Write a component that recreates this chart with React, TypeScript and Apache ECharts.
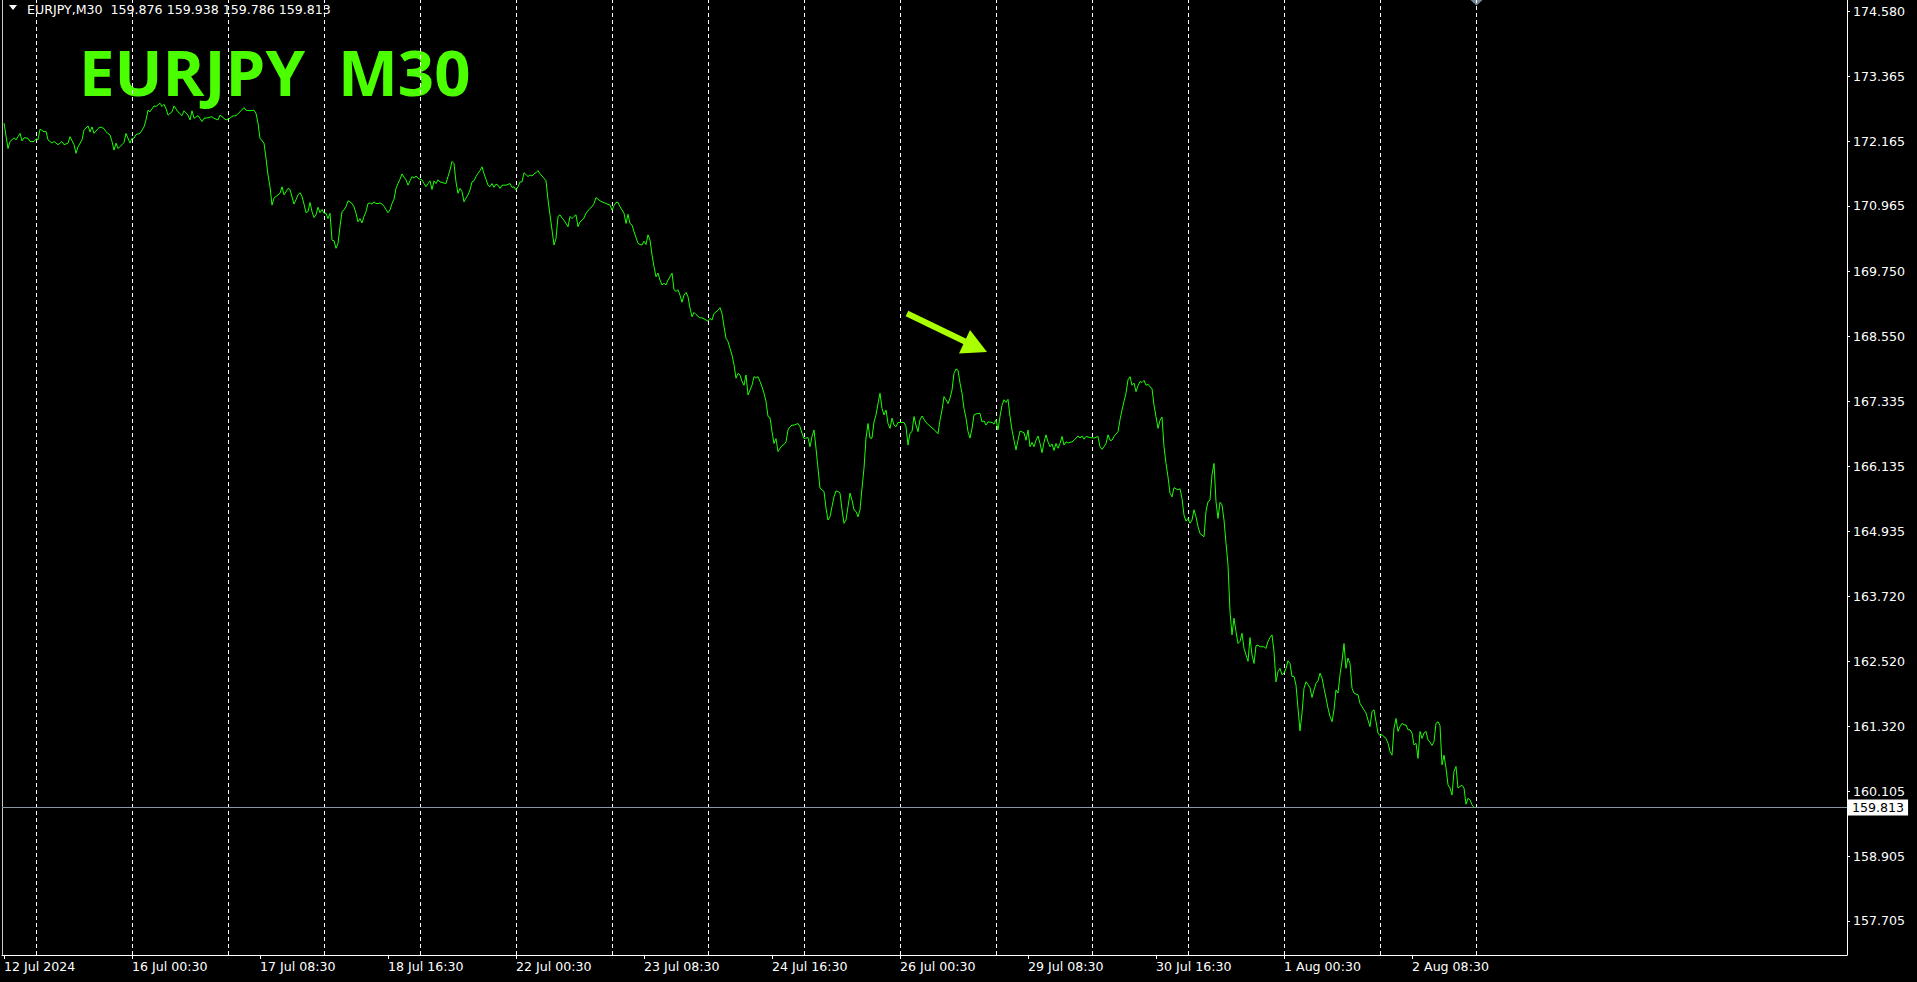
import React, { useEffect, useRef } from "react";
import * as echarts from "echarts";

const symbolName = "EURJPY";
const timeframe = "M30";
const lastBarOHLC = ["159.876", "159.938", "159.786", "159.813"];
const bidPrice = 159.813;

const timeLabels = [
  "12 Jul 2024", "16 Jul 00:30", "17 Jul 08:30", "18 Jul 16:30", "22 Jul 00:30", "23 Jul 08:30",
  "24 Jul 16:30", "26 Jul 00:30", "29 Jul 08:30", "30 Jul 16:30", "1 Aug 00:30", "2 Aug 08:30",
];
const timeLabelBars = [0, 64, 128, 192, 256, 320, 384, 448, 512, 576, 640, 704];
const gridLineBars = [16, 64, 112, 160, 208, 256, 304, 352, 400, 448, 496, 544, 592, 640, 688, 736];
const priceTicks = [
  174.58, 173.365, 172.165, 170.965, 169.75, 168.55, 167.335, 166.135,
  164.935, 163.72, 162.52, 161.32, 160.105, 158.905, 157.705,
];
const priceMin = 157.074;
const priceMax = 174.784;
const barMin = -1;
const barMax = 921.5;

// M30 bar index (from 12 Jul 2024 16:30) and close price
const sampleBars = [
  0, 2, 3, 4, 5, 6, 7, 8, 9, 10, 12, 13, 15, 16, 17, 18, 20, 21, 22, 24, 25, 27, 29, 30, 32, 33, 35, 36, 37, 39,
  40, 42, 43, 44, 45, 47, 48, 50, 51, 53, 54, 55, 56, 57, 59, 60, 61, 63, 64, 65, 66, 68, 70, 71, 72, 73, 75, 76, 78, 79,
  80, 81, 82, 84, 85, 87, 89, 90, 92, 93, 94, 95, 97, 99, 100, 102, 104, 105, 107, 108, 110, 111, 113, 114, 116, 118, 120, 121, 123, 125,
  126, 127, 128, 130, 131, 132, 133, 134, 135, 137, 138, 139, 140, 142,
  143, 145, 146, 147, 148, 149, 150, 151, 152, 153, 154, 155, 156, 157, 158, 159, 160, 161, 162, 163, 164, 165, 166, 167, 168, 169,
  170, 171, 172, 173, 174, 175, 176, 177, 178, 179, 180, 181, 182, 183, 184, 185, 186, 187, 188, 189, 190, 192, 193, 194, 195, 196,
  197, 198, 199, 200, 201, 202, 203, 204, 205, 206, 207, 208, 209, 210, 211, 212, 213, 214, 215, 216, 217, 218, 219, 221, 222, 223,
  224, 225, 226, 227, 228, 229, 230, 231, 232, 233, 234, 235, 236, 237, 238, 239, 240, 241, 242, 243, 244, 245, 246, 247, 248, 249,
  250, 251, 253, 254, 255, 256, 257, 258, 259, 260, 262, 263, 264, 265, 266, 267, 268, 270, 271, 272, 273, 274, 275, 276, 277, 278,
  279, 280, 282, 283,
  284, 285, 286, 287, 288, 289, 290, 291, 293, 294, 295, 296, 298, 299, 301, 303, 304, 305, 306, 307, 308, 310, 311, 312, 313, 314,
  315, 317, 318, 319, 320, 321, 322, 323, 324, 325, 326, 327, 328, 329, 330, 331, 332, 333, 334, 335, 336, 337, 338, 339, 340, 341,
  342, 343, 344, 345, 346, 348, 349, 351, 352, 353, 354, 355, 357, 358, 359, 360, 361, 362, 363, 364, 365, 366, 367, 368, 369, 370,
  371, 372, 373, 374, 375, 376, 377, 378, 379, 380, 381, 382, 383, 384, 385, 386, 387, 388, 389, 390, 391, 392, 393, 394, 395, 397,
  398, 399, 400, 402, 403, 404, 405, 406, 407, 408, 409, 410, 411, 412, 413, 414, 415, 416, 417, 418, 419, 420, 421, 422, 423, 424,
  425, 426, 427, 428, 429, 430, 431, 432, 433, 434, 435, 436, 437, 438,
  439, 440, 441, 442, 443, 444, 445, 446, 447, 448, 449, 450, 451, 452, 453, 454, 455, 456, 457, 458, 459, 460, 461, 463, 465, 467,
  468, 469, 470, 471, 472, 473, 474, 475, 476, 477, 478, 479, 480, 481, 482, 483, 484, 485, 486, 488, 489, 490, 491, 492, 494, 495,
  496, 497, 498, 499, 500, 501, 502, 503, 504, 505, 506, 507, 508, 510, 511, 512, 513, 514, 515, 516, 517, 518, 519, 520, 521, 522,
  523, 524, 525, 526, 527, 528, 529, 530, 531, 532, 534, 535, 537, 538, 539, 540, 541, 543, 545, 547, 548, 549, 550, 551, 552, 553,
  554, 555, 557, 558, 559, 560, 561, 562, 563, 564, 565, 566, 567, 568, 569, 570, 571, 572, 573, 574, 575, 576, 577, 578, 579, 580,
  581, 582, 583,
  584, 585, 587, 588, 589, 590, 591, 592, 593, 594, 595, 596, 597, 598, 599, 600, 601, 602, 603, 604, 605, 606, 607, 608, 609, 610,
  611, 612, 613, 614, 615, 616, 617, 618, 619, 620, 621, 622, 623, 624, 625, 626, 627, 628, 630, 631, 632, 633, 634, 635, 636, 637,
  638, 639, 640, 641, 642, 643, 644, 645, 646, 647, 648, 649, 650, 651, 652, 653, 654, 655, 656, 657, 658, 659, 660, 661, 662, 663,
  664, 665, 666, 667, 668, 669, 670, 671, 672, 673, 674, 675, 676, 677, 678, 679, 680, 681, 682, 683, 684, 685, 686, 687, 688, 689,
  690, 691, 692, 693, 694, 695, 696, 697, 698, 699, 700, 701, 702, 703, 704, 705, 706, 707, 708, 709, 710, 711, 712, 713, 714, 715,
  716, 717, 718, 719, 720, 721, 722, 723, 724, 725, 726, 727, 728, 729, 730, 731, 732, 733, 734, 735,
];
const samplePrices = [
  172.50, 172.03, 172.16, 172.19, 172.23, 172.19, 172.25, 172.31, 172.17, 172.23, 172.22, 172.16, 172.16, 172.21, 172.19, 172.39, 172.34, 172.35, 172.19, 172.13, 172.16, 172.10, 172.16, 172.10, 172.13, 172.25, 172.10, 171.94, 172.06, 172.19,
  172.37, 172.45, 172.34, 172.43, 172.31, 172.40, 172.43, 172.40, 172.34, 172.28, 172.16, 172.00, 172.13, 172.03, 172.10, 172.14, 172.31, 172.13, 172.22, 172.22, 172.29, 172.31, 172.43, 172.56, 172.74, 172.71, 172.82, 172.81, 172.87, 172.81,
  172.85, 172.77, 172.65, 172.71, 172.82, 172.71, 172.64, 172.73, 172.65, 172.56, 172.73, 172.59, 172.64, 172.53, 172.59, 172.60, 172.62, 172.59, 172.56, 172.65, 172.59, 172.56, 172.59, 172.63, 172.64, 172.71, 172.79, 172.74, 172.73, 172.74,
  172.68, 172.50, 172.22, 172.13, 171.85, 171.54, 171.32, 170.98, 171.11, 171.17, 171.20, 171.32, 171.17, 171.29,
  171.27, 171.00, 171.08, 171.17, 171.21, 171.14, 171.00, 170.84, 170.86, 171.03, 170.86, 170.75, 170.80, 170.94, 170.84, 170.90, 170.83, 170.83, 170.73, 170.83, 170.33, 170.32, 170.18, 170.27, 170.58, 170.86,
  170.89, 170.95, 171.06, 171.04, 171.01, 170.95, 170.83, 170.67, 170.73, 170.65, 170.77, 170.86, 171.01, 171.02, 171.00, 171.04, 171.01, 171.01, 171.02, 171.00, 170.96, 170.84, 170.89, 171.01, 171.09, 171.29,
  171.38, 171.46, 171.56, 171.50, 171.45, 171.35, 171.43, 171.51, 171.48, 171.52, 171.48, 171.46, 171.45, 171.38, 171.32, 171.38, 171.43, 171.27, 171.43, 171.38, 171.45, 171.41, 171.40, 171.38, 171.51, 171.63,
  171.79, 171.75, 171.41, 171.20, 171.29, 171.23, 171.04, 171.11, 171.17, 171.26, 171.41, 171.43, 171.51, 171.57, 171.62, 171.69, 171.56, 171.46, 171.35, 171.32, 171.38, 171.31, 171.37, 171.35, 171.29, 171.35,
  171.35, 171.35, 171.38, 171.31, 171.32, 171.26, 171.32, 171.41, 171.41, 171.58, 171.51, 171.54, 171.52, 171.56, 171.58, 171.62, 171.56, 171.48, 171.43, 171.08, 170.80, 170.52, 170.24, 170.36, 170.77, 170.80,
  170.74, 170.70, 170.58, 170.77,
  170.73, 170.77, 170.80, 170.58, 170.67, 170.70, 170.74, 170.83, 170.92, 170.95, 171.01, 171.12, 171.06, 171.04, 171.01, 170.98, 170.89, 170.97, 171.03, 171.03, 170.95, 170.83, 170.64, 170.81, 170.64, 170.61,
  170.49, 170.27, 170.25, 170.24, 170.31, 170.25, 170.43, 170.33, 170.06, 169.84, 169.65, 169.72, 169.59, 169.50, 169.53, 169.50, 169.59, 169.65, 169.72, 169.41, 169.38, 169.41, 169.31, 169.18, 169.31, 169.36,
  169.28, 169.07, 168.91, 168.99, 168.95, 168.89, 168.89, 168.85, 168.83, 168.88, 168.85, 168.97, 169.03, 169.08, 168.97, 168.73, 168.51, 168.45, 168.32, 168.20, 168.02, 167.77, 167.86, 167.83, 167.71, 167.64,
  167.83, 167.46, 167.55, 167.64, 167.80, 167.77, 167.80, 167.71, 167.61, 167.49, 167.34, 167.06, 167.04, 166.78, 166.56, 166.65, 166.41, 166.47, 166.52, 166.54, 166.59, 166.81, 166.87, 166.90, 166.90, 166.93,
  166.87, 166.75, 166.65, 166.67, 166.50, 166.69, 166.81, 166.47, 166.10, 165.73, 165.70, 165.67, 165.36, 165.14, 165.20, 165.39, 165.57, 165.68, 165.67, 165.64, 165.33, 165.08, 165.14, 165.39, 165.64, 165.51,
  165.33, 165.30, 165.20, 165.33, 165.73, 166.10, 166.66, 166.93, 166.66, 166.66, 166.96, 167.09, 167.30, 167.49,
  167.21, 167.09, 167.18, 166.93, 166.84, 167.03, 166.90, 166.87, 166.95, 166.95, 166.95, 166.95, 166.87, 166.53, 166.75, 166.78, 167.06, 166.90, 166.78, 167.00, 167.07, 167.01, 166.95, 166.88, 166.82, 166.74,
  166.99, 167.18, 167.43, 167.37, 167.30, 167.40, 167.55, 167.86, 167.94, 167.92, 167.68, 167.49, 167.21, 167.03, 166.78, 166.66, 166.84, 167.09, 167.11, 167.12, 166.96, 166.98, 166.90, 166.96, 166.95, 166.92,
  167.00, 166.81, 167.06, 167.27, 167.37, 167.32, 167.38, 167.06, 166.81, 166.62, 166.44, 166.62, 166.79, 166.76, 166.62, 166.81, 166.50, 166.58, 166.50, 166.62, 166.70, 166.56, 166.39, 166.58, 166.72, 166.59,
  166.50, 166.55, 166.43, 166.56, 166.47, 166.56, 166.69, 166.53, 166.59, 166.57, 166.59, 166.62, 166.70, 166.66, 166.70, 166.64, 166.69, 166.67, 166.66, 166.69, 166.50, 166.45, 166.50, 166.56, 166.72, 166.62,
  166.62, 166.69, 166.78, 167.00, 167.18, 167.34, 167.49, 167.74, 167.80, 167.64, 167.68, 167.52, 167.63, 167.71, 167.69, 167.73, 167.64, 167.66, 167.61, 167.58, 167.27, 167.06, 166.84, 166.99, 167.05, 166.50,
  166.19, 165.94, 165.64,
  165.57, 165.74, 165.70, 165.72, 165.54, 165.23, 165.12, 165.17, 165.08, 165.14, 165.33, 165.20, 165.02, 164.89, 164.86, 164.83, 165.30, 165.48, 165.51, 165.98, 166.19, 165.48, 165.17, 165.47, 165.42, 165.14,
  164.71, 164.31, 163.44, 163.01, 163.32, 163.07, 162.85, 162.89, 163.04, 162.76, 162.64, 162.52, 162.96, 162.64, 162.48, 162.81, 162.82, 162.79, 162.79, 162.76, 162.89, 162.96, 163.01, 162.70, 162.14, 162.33,
  162.39, 162.27, 162.30, 162.39, 162.53, 162.48, 162.24, 162.24, 162.08, 161.65, 161.23, 161.56, 162.02, 162.14, 162.09, 162.03, 161.85, 161.99, 162.11, 162.16, 162.30, 162.21, 162.02, 161.84, 161.65, 161.50,
  161.40, 161.62, 161.99, 161.93, 162.27, 162.52, 162.85, 162.39, 162.58, 162.48, 162.02, 161.93, 161.91, 161.90, 161.74, 161.68, 161.62, 161.56, 161.43, 161.31, 161.59, 161.62, 161.40, 161.19, 161.14, 161.16,
  161.12, 161.09, 161.00, 160.85, 160.78, 161.28, 161.46, 161.22, 161.31, 161.37, 161.34, 161.34, 161.25, 161.25, 161.19, 160.97, 161.00, 160.72, 161.22, 161.09, 161.19, 161.22, 161.06, 161.02, 160.96, 161.03,
  161.37, 161.40, 161.33, 160.60, 160.78, 160.54, 160.23, 160.17, 160.04, 160.48, 160.57, 160.17, 160.20, 160.22, 160.17, 159.87, 159.98, 159.95, 159.86, 159.81,
];

const FONT = "DejaVu Sans";
const FS = 12.6;

export default function App() {
  const ref = useRef<HTMLDivElement>(null);

  useEffect(() => {
    document.body.style.margin = "0";
    document.body.style.background = "#000";
    if (!ref.current) return;
    const chart = echarts.init(ref.current, undefined, { renderer: "svg" });
    const seriesData = sampleBars.map((b, i) => [b, samplePrices[i]]);
    const header = `${symbolName},${timeframe}\u00a0\u00a0${lastBarOHLC.join(" ")}`;
    const title = `${symbolName}\u00a0\u00a0${timeframe}`;

    chart.setOption({
      animation: false,
      backgroundColor: "#000",
      grid: { left: 2, right: 70, top: 0, bottom: 27, containLabel: false },
      xAxis: [
        {
          type: "value",
          min: barMin,
          max: barMax,
          position: "bottom",
          axisLine: { show: true, onZero: false, lineStyle: { color: "#fff", width: 1 } },
          axisTick: { show: true, customValues: timeLabelBars, length: 4, lineStyle: { color: "#fff" } },
          axisLabel: {
            show: true,
            customValues: timeLabelBars,
            formatter: (v: number) => {
              const k = timeLabelBars.indexOf(Math.round(v));
              return k >= 0 ? timeLabels[k] : "";
            },
            color: "#fff",
            fontFamily: FONT,
            fontSize: FS,
            align: "left",
            margin: 5,
          },
          splitLine: { show: false },
        },
      ],
      yAxis: [
        {
          type: "value",
          position: "right",
          min: priceMin,
          max: priceMax,
          axisLine: { show: true, onZero: false, lineStyle: { color: "#fff", width: 1 } },
          axisTick: { show: true, customValues: priceTicks, length: 3, lineStyle: { color: "#fff" } },
          axisLabel: {
            show: true,
            customValues: priceTicks,
            formatter: (v: number) => v.toFixed(3),
            color: "#fff",
            fontFamily: FONT,
            fontSize: FS,
            margin: 6,
          },
          splitLine: { show: false },
        },
        {
          type: "value",
          position: "left",
          min: priceMin,
          max: priceMax,
          axisLine: { show: true, onZero: false, lineStyle: { color: "#c8c8c8", width: 1 } },
          axisTick: { show: false },
          axisLabel: { show: false },
          splitLine: { show: false },
        },
      ],
      series: [
        {
          type: "line",
          xAxisIndex: 0,
          yAxisIndex: 0,
          data: seriesData,
          showSymbol: false,
          symbol: "none",
          lineStyle: { color: "#1aff00", width: 1 },
          itemStyle: { color: "#1aff00" },
          z: 3,
          markLine: {
            silent: true,
            symbol: ["none", "none"],
            animation: false,
            z: 2,
            data: [
              ...gridLineBars.map((b) => ({
                xAxis: b,
                lineStyle: { color: "#ffffff", type: [4, 3], width: 1 },
                label: { show: false },
              })),
              {
                yAxis: bidPrice,
                lineStyle: { color: "#8a96a6", type: "solid", width: 1 },
                label: {
                  show: true,
                  position: "end",
                  distance: 1,
                  formatter: bidPrice.toFixed(3),
                  color: "#000",
                  backgroundColor: "#fff",
                  padding: [2, 4, 1, 4],
                  fontFamily: FONT,
                  fontSize: FS,
                },
              },
            ],
          },
        },
      ],
      graphic: [
        { type: "polygon", shape: { points: [[9, 5], [17, 5], [13, 10]] }, style: { fill: "#fff" } },
        {
          type: "text",
          x: 27,
          y: 9,
          style: { text: header, fill: "#fff", fontFamily: FONT, fontSize: FS, verticalAlign: "middle" },
        },
        {
          type: "text",
          x: 79,
          y: 71,
          style: {
            text: title,
            fill: "#4cff00",
            fontFamily: "Open Sans",
            fontWeight: "bold",
            fontSize: 63.5,
            verticalAlign: "middle",
          },
        },
        {
          type: "line",
          shape: { x1: 907, y1: 313.5, x2: 966, y2: 342 },
          style: { stroke: "#aaff00", lineWidth: 6 },
        },
        {
          type: "polygon",
          shape: { points: [[970, 330], [987, 352], [959, 353.5]] },
          style: { fill: "#aaff00" },
        },
        {
          type: "polygon",
          shape: { points: [[1470.5, 0], [1482.5, 0], [1476.5, 5.5]] },
          style: { fill: "#778899" },
        },
      ],
    });
    return () => chart.dispose();
  }, []);

  return (
    <div
      ref={ref}
      style={{ position: "fixed", left: 0, top: 0, width: 1917, height: 982, background: "#000" }}
    />
  );
}
